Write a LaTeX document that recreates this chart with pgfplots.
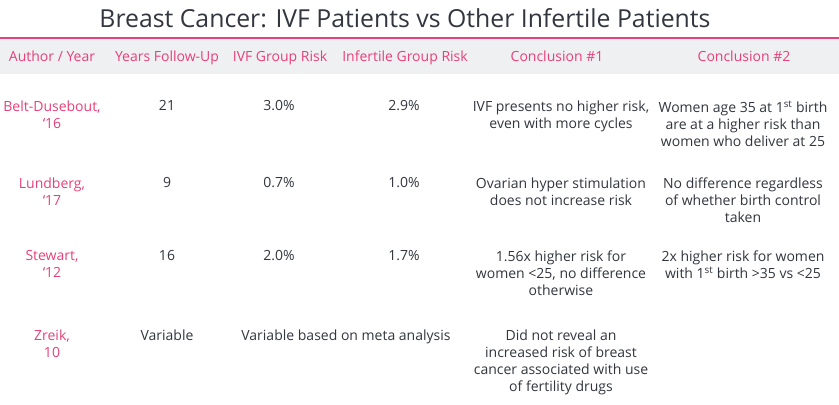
\documentclass[border=0pt]{standalone}
\usepackage{pgfplots}
\pgfplotsset{compat=1.18}
\usepackage{fontspec}
\setmainfont{Open Sans}
\definecolor{pinkc}{HTML}{E8407A}
\definecolor{darkc}{HTML}{33363F}
\definecolor{bandc}{HTML}{EFF0F2}
\begin{document}
\begin{tikzpicture}
\begin{axis}[
  scale only axis, width=839bp, height=405bp,
  xmin=0, xmax=839, ymin=0, ymax=405, y dir=reverse,
  axis lines=none, clip=false,
]
\fill[white] (axis cs:0,0) rectangle (axis cs:839,405);
\fill[bandc] (axis cs:0,39) rectangle (axis cs:839,73.5);
\fill[pinkc] (axis cs:0,36.6) rectangle (axis cs:839,39.4);
\node[darkc, font=\fontsize{24.8bp}{28bp}\selectfont, inner sep=0] at (axis cs:405,18.5) {Breast Cancer: IVF Patients vs Other Infertile Patients};
\begin{scope}[every node/.style={pinkc, font=\fontsize{14bp}{17bp}\selectfont, inner sep=0, text height=10bp, text depth=3bp}]
\node at (axis cs:52,58) {Author / Year};
\node at (axis cs:167,58) {Years Follow-Up};
\node at (axis cs:280,58) {IVF Group Risk};
\node at (axis cs:405,58) {Infertile Group Risk};
\node at (axis cs:557,58) {Conclusion \#1};
\node at (axis cs:744,58) {Conclusion \#2};
\end{scope}
\begin{scope}[every node/.style={darkc, font=\fontsize{14bp}{17bp}\selectfont, inner sep=0, align=center, anchor=north}]
% row 1
\node[pinkc] at (axis cs:52,100.5) {Belt-Dusebout,\\`16};
\node at (axis cs:167,100.5) {21};
\node at (axis cs:279,100.5) {3.0\%};
\node at (axis cs:404,100.5) {2.9\%};
\node at (axis cs:561,100.5) {IVF presents no higher risk,\\even with more cycles};
\node at (axis cs:743,100.5) {Women age 35 at 1\textsuperscript{st} birth\\are at a higher risk than\\women who deliver at 25};
% row 2
\node[pinkc] at (axis cs:52,177.5) {Lundberg,\\`17};
\node at (axis cs:167,177.5) {9};
\node at (axis cs:279,177.5) {0.7\%};
\node at (axis cs:404,177.5) {1.0\%};
\node at (axis cs:561,177.5) {Ovarian hyper stimulation\\does not increase risk};
\node at (axis cs:743,177.5) {No difference regardless\\of whether birth control\\taken};
% row 3
\node[pinkc] at (axis cs:52,250.5) {Stewart,\\`12};
\node at (axis cs:167,250.5) {16};
\node at (axis cs:279,250.5) {2.0\%};
\node at (axis cs:404,250.5) {1.7\%};
\node at (axis cs:561,250.5) {1.56x higher risk for\\women <25, no difference\\otherwise};
\node at (axis cs:743,250.5) {2x higher risk for women\\with 1\textsuperscript{st} birth >35 vs <25};
% row 4
\node[pinkc] at (axis cs:52,329.5) {Zreik,\\10};
\node at (axis cs:167,329.5) {Variable};
\node at (axis cs:346,329.5) {Variable based on meta analysis};
\node at (axis cs:561,329.5) {Did not reveal an\\increased risk of breast\\cancer associated with use\\of fertility drugs};
\end{scope}
\end{axis}
\end{tikzpicture}
\end{document}
